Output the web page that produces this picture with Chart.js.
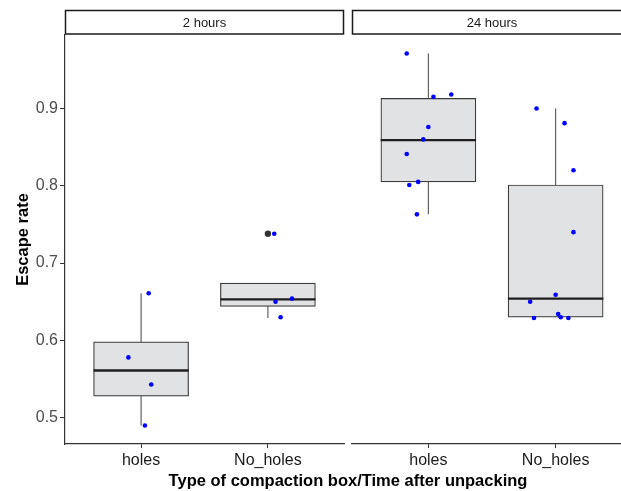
<!DOCTYPE html>
<html><head><meta charset="utf-8">
<script src="https://cdn.jsdelivr.net/npm/chart.js@4.4.1/dist/chart.umd.min.js"></script>
<style>
html,body{margin:0;padding:0;background:#fff;overflow:hidden;width:621px;height:491px;}
#wrap{position:relative;width:621px;height:491px;overflow:hidden;}
canvas{position:absolute;top:0;}
#xtitle{position:absolute;left:348px;top:470px;transform:translateX(-50%);white-space:nowrap;font:bold 16.5px 'Liberation Sans',Arial,sans-serif;line-height:20px;color:#000;}
</style></head><body>
<div id="wrap">
<canvas id="c1" width="348" height="491" style="left:0"></canvas>
<canvas id="c2" width="292" height="491" style="left:348px"></canvas>
<div id="xtitle">Type of compaction box/Time after unpacking</div>
</div>
<script>
// ---- data ----
const categories = ['holes', 'No_holes'];
const panelLabels = ['2 hours', '24 hours'];
const yTickValues = [0.5, 0.6, 0.7, 0.8, 0.9];
const yTitle = 'Escape rate';

// box statistics, 2 hours [holes, No_holes]
const q1_2h  = [0.528, 0.644];
const med_2h = [0.561, 0.653];
const q3_2h  = [0.598, 0.674];
const lo_2h  = [0.490, 0.629];
const hi_2h  = [0.661, 0.674];
const outlierX_2h = [2];
const outlierY_2h = [0.738];
// jittered observations, 2 hours (x = category index + jitter)
const ptsX_2h = [1.06, 0.90, 1.08, 1.03, 2.05, 2.06, 2.19, 2.10];
const ptsY_2h = [0.661, 0.578, 0.543, 0.490, 0.738, 0.650, 0.654, 0.630];

// box statistics, 24 hours [holes, No_holes]
const q1_24h  = [0.805, 0.630];
const med_24h = [0.859, 0.654];
const q3_24h  = [0.913, 0.801];
const lo_24h  = [0.763, 0.630];
const hi_24h  = [0.971, 0.900];
const outlierX_24h = [];
const outlierY_24h = [];
// jittered observations, 24 hours
const ptsX_24h = [0.83, 1.04, 1.18, 1.00, 0.96, 0.83, 0.85, 0.92, 0.91,
                  1.85, 2.07, 2.14, 2.14, 2.00, 1.80, 1.83, 2.02, 2.04, 2.10];
const ptsY_24h = [0.971, 0.915, 0.918, 0.876, 0.860, 0.841, 0.801, 0.805, 0.763,
                  0.900, 0.881, 0.820, 0.740, 0.659, 0.650, 0.629, 0.634, 0.630, 0.629];

// ---- drawing ----
const FONT = "'Liberation Sans', Arial, sans-serif";
const BOX_HALF = 0.375;

function stripPlugin(label) {
  return {
    id: 'strip',
    afterDraw(chart) {
      const {ctx, chartArea} = chart;
      ctx.save();
      ctx.fillStyle = '#fff';
      ctx.fillRect(chartArea.left, 10, chartArea.right - chartArea.left, 24);
      ctx.strokeStyle = '#1a1a1a';
      ctx.lineWidth = 1.5;
      ctx.strokeRect(chartArea.left + 0.5, 10.5, chartArea.right - chartArea.left - 1, 23.5);
      ctx.fillStyle = '#1a1a1a';
      ctx.font = '13px ' + FONT;
      ctx.textAlign = 'center';
      ctx.textBaseline = 'middle';
      ctx.fillText(label, (chartArea.left + chartArea.right) / 2, 23);
      ctx.restore();
    }
  };
}

function makePanel(canvasId, label, q1, med, q3, lo, hi, oX, oY, pX, pY, showY, padL, padR) {
  const boxes = categories.map((c, i) => ({x: i + 1, y: [q1[i], q3[i]]}));
  const whiskers = [];
  const medians = [];
  categories.forEach((c, i) => {
    whiskers.push({x: i + 1, y: lo[i]}, {x: i + 1, y: hi[i]}, {x: i + 1, y: null});
    medians.push({x: i + 1 - BOX_HALF, y: med[i]}, {x: i + 1 + BOX_HALF, y: med[i]}, {x: i + 1, y: null});
  });
  const outliers = oX.map((x, i) => ({x, y: oY[i]}));
  const pts = pX.map((x, i) => ({x, y: pY[i]}));

  return new Chart(document.getElementById(canvasId), {
    type: 'scatter',
    data: {
      datasets: [
        {type: 'scatter', data: pts, backgroundColor: '#0000FF', borderWidth: 0, pointRadius: 2.3, order: 0},
        {type: 'scatter', data: outliers, backgroundColor: '#333333', borderWidth: 0, pointRadius: 3.2, order: 1},
        {type: 'line', data: medians, borderColor: '#1f1f1f', borderWidth: 2.4, pointRadius: 0, spanGaps: false, fill: false, order: 2},
        {type: 'bar', data: boxes, backgroundColor: '#E1E2E4', borderColor: '#3a3a3a', borderWidth: 1.2, borderSkipped: false, barThickness: 95, order: 3},
        {type: 'line', data: whiskers, borderColor: '#555555', borderWidth: 1.1, pointRadius: 0, spanGaps: false, fill: false, order: 4}
      ]
    },
    options: {
      responsive: false,
      devicePixelRatio: 1,
      animation: false,
      events: [],
      layout: {padding: {top: 35, bottom: 0, left: padL, right: padR}},
      plugins: {legend: {display: false}, tooltip: {enabled: false}},
      scales: {
        x: {
          type: 'linear', min: 0.4, max: 2.6, offset: false,
          afterFit(s) { s.height = 47; },
          afterBuildTicks(s) { s.ticks = categories.map((c, i) => ({value: i + 1})); },
          ticks: {
            callback: (v) => categories[Math.round(v) - 1],
            color: '#1a1a1a', font: {family: FONT, size: 16}, padding: 3, maxRotation: 0, autoSkip: false
          },
          grid: {drawOnChartArea: false, drawTicks: true, tickLength: 4, color: '#333', offset: false},
          border: {display: true, color: '#333', width: 1.2}
        },
        y: {
          type: 'linear', min: 0.466, max: 0.995, display: showY,
          afterFit(s) { s.width = showY ? 65 : 0; },
          afterBuildTicks(s) { s.ticks = yTickValues.map(v => ({value: v})); },
          ticks: {
            callback: (v) => v.toFixed(1),
            color: '#4D4D4D', font: {family: FONT, size: 16}, padding: 2
          },
          grid: {drawOnChartArea: false, drawTicks: true, tickLength: 5, color: '#333'},
          border: {display: true, color: '#333', width: 1.2},
          title: {display: true, text: yTitle, color: '#000', font: {family: FONT, size: 16.5, weight: 'bold'}, padding: {top: 14, bottom: 0}}
        }
      }
    },
    plugins: [stripPlugin(label)]
  });
}

makePanel('c1', panelLabels[0], q1_2h, med_2h, q3_2h, lo_2h, hi_2h, outlierX_2h, outlierY_2h, ptsX_2h, ptsY_2h, true, 0, 3);
makePanel('c2', panelLabels[1], q1_24h, med_24h, q3_24h, lo_24h, hi_24h, outlierX_24h, outlierY_24h, ptsX_24h, ptsY_24h, false, 4, 8);
</script>
</body></html>
